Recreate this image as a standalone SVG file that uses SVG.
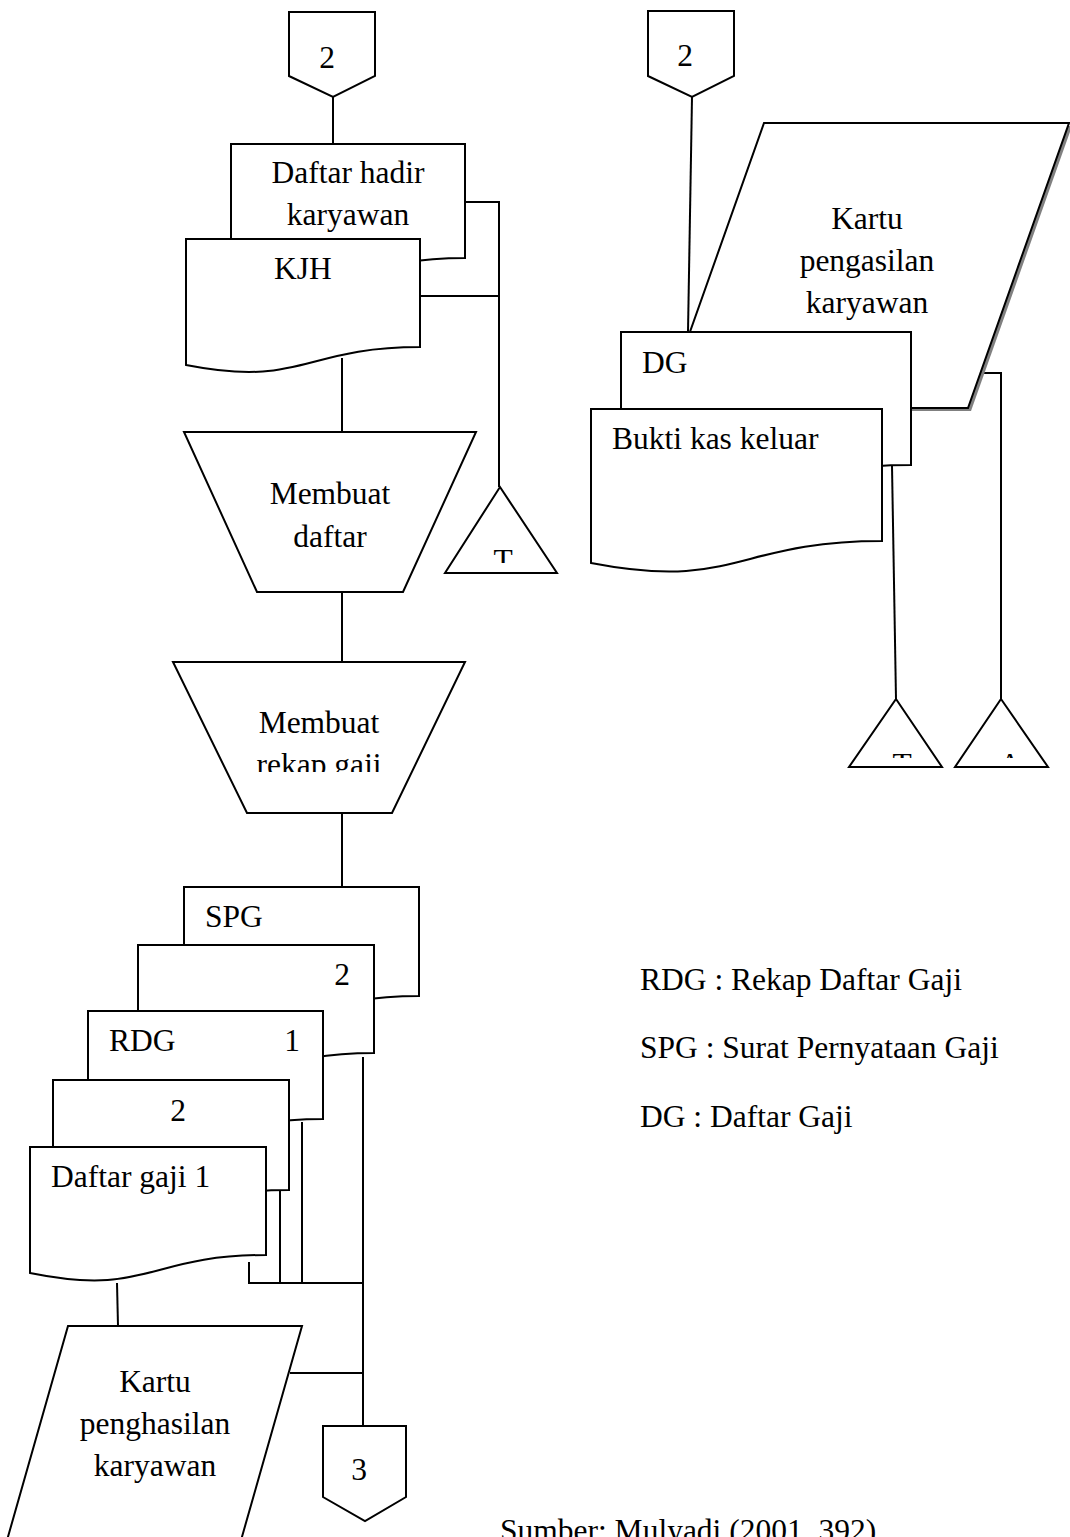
<svg xmlns="http://www.w3.org/2000/svg" width="1070" height="1537" viewBox="0 0 1070 1537">
  <style>
    .shape { fill: #ffffff; stroke: #000000; stroke-width: 2; stroke-linejoin: miter; }
    .line { fill: none; stroke: #000000; stroke-width: 2; }
    .shadow { fill: #808080; stroke: none; }
    text { font-family: "Liberation Serif", "Times New Roman", serif; font-size: 31.5px; fill: #000000; }
    .mid { text-anchor: middle; }
  </style>
  <defs>
    <!-- text boxes that clip their labels -->
    <clipPath id="clipTriT1"><rect x="440" y="540" width="120" height="23"/></clipPath>
    <clipPath id="clipTriT2"><rect x="845" y="740" width="100" height="18"/></clipPath>
    <clipPath id="clipTriA"><rect x="950" y="740" width="100" height="18"/></clipPath>
    <clipPath id="clipRekap"><rect x="200" y="740" width="240" height="32"/></clipPath>
  </defs>

  <rect x="0" y="0" width="1070" height="1537" fill="#ffffff"/>

  <!-- connectors -->
  <g id="connectors">
    <line class="line" x1="333" y1="97" x2="333" y2="144"/>
    <polyline class="line" points="465,202 499,202 499,487"/>
    <line class="line" x1="420" y1="296" x2="499" y2="296"/>
    <line class="line" x1="342" y1="358" x2="342" y2="432"/>
    <line class="line" x1="342" y1="592" x2="342" y2="662"/>
    <line class="line" x1="342" y1="813" x2="342" y2="887"/>
    <line class="line" x1="692" y1="97" x2="688" y2="332"/>
    <polyline class="line" points="984,373 1001,373 1001,699"/>
    <line class="line" x1="892" y1="466" x2="896" y2="699"/>
    <line class="line" x1="363" y1="1057" x2="363" y2="1426"/>
    <line class="line" x1="302" y1="1122" x2="302" y2="1283"/>
    <line class="line" x1="280" y1="1191" x2="280" y2="1283"/>
    <polyline class="line" points="249,1262 249,1283 363,1283"/>
    <line class="line" x1="290" y1="1373" x2="363" y2="1373"/>
    <line class="line" x1="117" y1="1283" x2="118" y2="1326"/>
  </g>

  <!-- off-page connector 2 (left) -->
  <g id="offpage-2-left">
    <path class="shape" d="M289,12 H375 V76 L333,97 L289,76 Z"/>
    <text x="327" y="68" class="mid">2</text>
  </g>

  <!-- off-page connector 2 (right) -->
  <g id="offpage-2-right">
    <path class="shape" d="M648,11 H734 V76 L692,97 L648,76 Z"/>
    <text x="685" y="66" class="mid">2</text>
  </g>

  <!-- Daftar hadir karyawan -->
  <g id="doc-daftar-hadir">
    <path class="shape" d="M231,144 H465 V258 C348,258 348,301 231,277 Z"/>
    <text x="348" y="183" class="mid">Daftar hadir</text>
    <text x="348" y="225" class="mid">karyawan</text>
  </g>

  <!-- KJH -->
  <g id="doc-kjh">
    <path class="shape" d="M186,239 H420 V347 C303,347 303,388 186,365 Z"/>
    <text x="303" y="279" class="mid">KJH</text>
  </g>

  <!-- Membuat daftar -->
  <g id="proc-membuat-daftar">
    <path class="shape" d="M184,432 H476 L403,592 H257 Z"/>
    <text x="330" y="504" class="mid">Membuat</text>
    <text x="330" y="547" class="mid">daftar</text>
  </g>

  <!-- file T (left) -->
  <g id="file-t-left">
    <path class="shape" d="M500,487 L557,573 H445 Z"/>
    <text x="503" y="571" class="mid" clip-path="url(#clipTriT1)">T</text>
  </g>

  <!-- Membuat rekap gaji -->
  <g id="proc-membuat-rekap">
    <path class="shape" d="M173,662 H465 L392,813 H247 Z"/>
    <text x="319" y="733" class="mid">Membuat</text>
    <text x="319" y="775" class="mid" clip-path="url(#clipRekap)">rekap gaji</text>
  </g>

  <!-- Kartu pengasilan karyawan (right) -->
  <g id="card-kartu-right">
    <path class="shadow" d="M767,126 H1072 L971,411 H666 Z"/>
    <path class="shape" d="M764,123 H1069 L968,408 H663 Z"/>
    <text x="867" y="229" class="mid">Kartu</text>
    <text x="867" y="271" class="mid">pengasilan</text>
    <text x="867" y="313" class="mid">karyawan</text>
  </g>

  <!-- DG -->
  <g id="doc-dg">
    <path class="shape" d="M621,332 H911 V465 C766,465 766,516 621,487 Z"/>
    <text x="642" y="373">DG</text>
  </g>

  <!-- Bukti kas keluar -->
  <g id="doc-bukti-kas">
    <path class="shape" d="M591,409 H882 V541 C736,541 736,591 591,563 Z"/>
    <text x="612" y="449">Bukti kas keluar</text>
  </g>

  <!-- file T (right) -->
  <g id="file-t-right">
    <path class="shape" d="M896,699 L942,767 H849 Z"/>
    <text x="902" y="775" class="mid" clip-path="url(#clipTriT2)">T</text>
  </g>

  <!-- file A -->
  <g id="file-a">
    <path class="shape" d="M1001,699 L1048,767 H955 Z"/>
    <text x="1010" y="775" class="mid" clip-path="url(#clipTriA)">A</text>
  </g>

  <!-- SPG -->
  <g id="doc-spg">
    <path class="shape" d="M184,887 H419 V996 C301,996 301,1038 184,1014 Z"/>
    <text x="205" y="927">SPG</text>
  </g>

  <!-- SPG copy 2 -->
  <g id="doc-spg-2">
    <path class="shape" d="M138,945 H374 V1053 C256,1053 256,1095 138,1071 Z"/>
    <text x="342" y="985" class="mid">2</text>
  </g>

  <!-- RDG 1 -->
  <g id="doc-rdg-1">
    <path class="shape" d="M88,1011 H323 V1119 C205,1119 205,1161 88,1137 Z"/>
    <text x="109" y="1051">RDG</text>
    <text x="292" y="1051" class="mid">1</text>
  </g>

  <!-- Daftar gaji copy 2 -->
  <g id="doc-dg-2">
    <path class="shape" d="M53,1080 H289 V1190 C171,1190 171,1232 53,1208 Z"/>
    <text x="178" y="1121" class="mid">2</text>
  </g>

  <!-- Daftar gaji 1 -->
  <g id="doc-daftar-gaji-1">
    <path class="shape" d="M30,1147 H266 V1255 C148,1255 148,1297 30,1273 Z"/>
    <text x="51" y="1187">Daftar gaji 1</text>
  </g>

  <!-- Kartu penghasilan karyawan (bottom) -->
  <g id="card-kartu-bottom">
    <path class="shape" d="M68,1326 H302 L224,1600 H-10 Z"/>
    <text x="155" y="1392" class="mid">Kartu</text>
    <text x="155" y="1434" class="mid">penghasilan</text>
    <text x="155" y="1476" class="mid">karyawan</text>
  </g>

  <!-- off-page connector 3 -->
  <g id="offpage-3">
    <path class="shape" d="M323,1426 H406 V1497 L365,1521 L323,1497 Z"/>
    <text x="359" y="1480" class="mid">3</text>
  </g>

  <!-- legend -->
  <g id="legend">
    <text x="640" y="990">RDG : Rekap Daftar Gaji</text>
    <text x="640" y="1058">SPG : Surat Pernyataan Gaji</text>
    <text x="640" y="1127">DG : Daftar Gaji</text>
  </g>

  <!-- source note -->
  <g id="source">
    <text x="500" y="1541">Sumber: Mulyadi (2001, 392)</text>
  </g>
</svg>
